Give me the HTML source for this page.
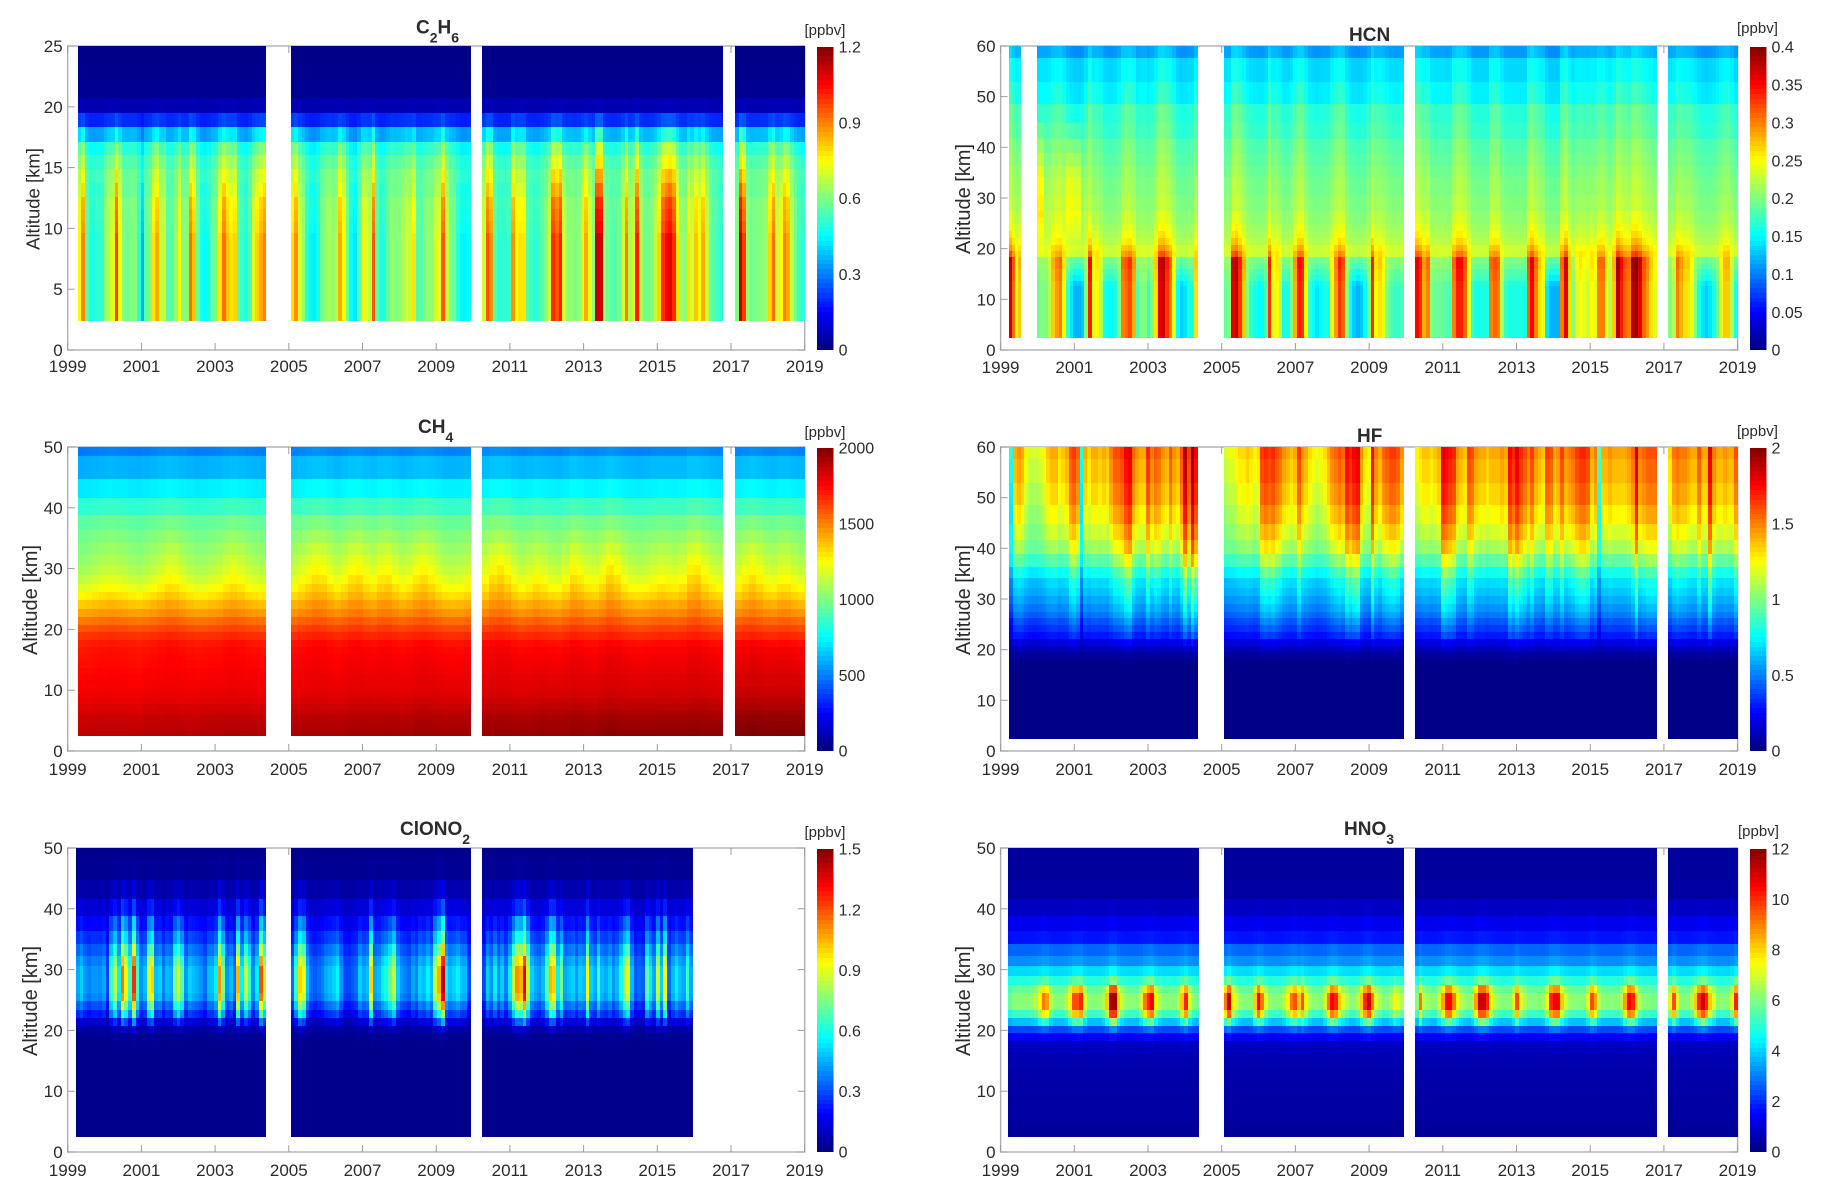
<!DOCTYPE html>
<html lang="en">
<head>
<meta charset="utf-8">
<title>Altitude-time mixing ratio panels</title>
<style>
html,body{margin:0;padding:0;background:#fff}
svg{display:block}
text{font-family:"Liberation Sans",Arial,sans-serif;fill:#2b2b2b}
</style>
</head>
<body>
<svg id="figure" xmlns="http://www.w3.org/2000/svg" width="1825" height="1198" viewBox="0 0 1825 1198"></svg>
<script>
/* shared axis data */
const levelEdgesKm = [60,57.7,52.9,48.5,44.8,41.6,38.8,36.3,34.2,32.2,30.6,29,27.5,26.2,24.8,23.4,22.1,20.7,19.5,18.3,17.1,16,14.9,13.7,12.6,11.6,10.6,9.6,8.7,7.7,6.8,5.9,5,4.2,3.3,2.4];
const yearTicks = ['1999','2001','2003','2005','2007','2009','2011','2013','2015','2017','2019'];
const yTicks25 = ['0','5','10','15','20','25'];
const yTicks50 = ['0','10','20','30','40','50'];
const yTicks60 = ['0','10','20','30','40','50','60'];

/* C2H6 */
const c2h6Segments = [[1999.27,2004.39],[2005.05,2009.94],[2010.24,2016.79],[2017.11,2019]];
const c2h6Profile = [.01,.01,.015,.02,.06,.2,.37,.5,.55,.58,.58,.6,.6,.6,.6,.6,.6,.6,.6,.6,.6,.6];
const c2h6Weight = [0,0,0,0,.02,.12,.3,.4,.45,.55,.7,.8,.85,.9,1,1,1,1,1,1,1,1];
const c2h6Series = [
[.75,.9,.55,.48,.48,.5,.5,.62,.68,.72,.98,.75,.6,.58,.6,.6,.5,.36,.55,.6,.78,.85,.68,.7,.55,.55,.62,.75,.6,.62,.92,.82,.58,.47,.45,.5,.58,.6,.78,.92,.82,.78,.8,.55,.52,.48,.55,.72,.8,.85,.9],
[.78,.88,.7,.62,.5,.44,.43,.47,.58,.62,.65,.62,.66,.85,.75,.58,.45,.42,.55,.75,.72,.68,.95,.55,.48,.5,.56,.62,.6,.62,.65,.7,.68,.78,.55,.55,.6,.62,.62,.7,.72,.95,.68,.6,.58,.5,.44,.44,.46],
[.7,.95,.88,.55,.5,.5,.5,.52,.88,.75,.78,.78,.55,.52,.5,.5,.55,.6,.7,1,.95,1.02,.7,.62,.62,.6,.62,.72,.85,.72,.62,1.12,1.1,.62,.58,.55,.55,.58,.7,.9,.65,.7,1.02,.65,.58,.58,.6,.68,.8,1,1.05,1.08,1,.78,.62,.62,.78,.7,.82,.75,.85,.68,.58,.55,.52,.5],
[.6,1.12,.98,.62,.58,.6,.6,.62,.62,.8,.92,.7,.75,.9,.85,.68,.58,.52,.5]
];
const c2h6BarLabels = ['0','0.3','0.6','0.9','1.2'];

/* HCN */
const hcnSegments = [[1999.24,1999.56],[1999.98,2004.36],[2005.05,2009.94],[2010.24,2016.81],[2017.12,2019]];
const hcnProfile = [.115,.14,.15,.17,.175,.185,.19,.195,.2,.2,.205,.205,.21,.21,.215,.22,.225,.235,.235,.21,.21,.205,.205,.2,.2,.2,.2,.2,.2,.2,.2,.2,.2,.2,.2];
const hcnWeight = [.12,.12,.15,.15,.15,.15,.15,.15,.15,.15,.15,.15,.18,.2,.22,.25,.3,.35,.5,1,1,1,1,1,1,1,1,1,1,1,1,1,1,1,1];
const hcnNegWeight = [.12,.12,.15,.15,.15,.12,.12,.12,.12,.12,.12,.12,.12,.12,.12,.12,.12,.12,.15,.3,.45,.6,.75,.9,1,1,1,1,1,1,1,1,1,1,1];
const hcnSeries = [
[.37,.31,.24,.27],
[.19,.2,.2,.22,.27,.29,.3,.25,.17,.14,.12,.12,.13,.2,.34,.24,.25,.22,.16,.15,.15,.16,.2,.3,.31,.32,.28,.18,.2,.2,.17,.2,.26,.36,.37,.33,.3,.24,.15,.13,.14,.16,.16,.26],
[.19,.2,.36,.38,.33,.27,.2,.17,.16,.15,.15,.18,.33,.24,.25,.22,.16,.16,.2,.28,.34,.33,.25,.17,.15,.14,.15,.16,.16,.24,.29,.33,.31,.2,.15,.13,.12,.13,.15,.2,.33,.25,.26,.24,.2,.18,.17,.17,.18],
[.35,.33,.28,.3,.2,.19,.19,.19,.18,.18,.3,.34,.34,.31,.24,.17,.16,.16,.16,.16,.3,.31,.3,.22,.17,.16,.16,.16,.16,.16,.31,.35,.3,.26,.24,.14,.12,.12,.12,.3,.36,.26,.2,.24,.25,.24,.23,.25,.24,.3,.3,.25,.22,.27,.38,.34,.31,.3,.38,.39,.36,.31,.29,.26,.24],
[.2,.22,.3,.28,.26,.26,.24,.2,.16,.14,.13,.14,.16,.19,.24,.27,.27,.22,.16]
];
const hcnUpperSeries = [[0],[.05,.012,.012,.012,.045,.045,.012,0,0,0,0,0,0,0,0,0,0,0,0,0,0,0],[0],[0],[0]];
const hcnUpperWeight = [0,0,0,0,.3,.5,.7,.9,1,1,1,1,1,.9,.7,.5,.3,.2,.1,0,0,0,0,0,0,0,0,0,0,0,0,0,0,0,0];
const hcnBarLabels = ['0','0.05','0.1','0.15','0.2','0.25','0.3','0.35','0.4'];

/* CH4 */
const ch4Segments = [[1999.27,2004.39],[2005.05,2009.94],[2010.24,2016.79],[2017.11,2019]];
const ch4Profile = [500,600,720,850,950,1000,1040,1080,1120,1170,1230,1300,1380,1450,1530,1600,1660,1710,1730,1740,1750,1760,1770,1780,1790,1800,1820,1840,1860,1880,1890,1900,1910];
const ch4Weight = [.3,.3,.3,.4,.5,.7,1,1.2,1.3,1.3,1.2,1,.8,.6,.5,.4,.3,.3,.25,.25,.2,.2,.2,.1,.1,.1,.1,.1,.1,.1,.1,.1,.1];
const ch4Series = [
[-40,-30,-10,10,20,10,0,-20,-30,-10,10,40,70,60,30,0,-20,-20,0,20,50,70,50,20,0,-10],
[20,50,80,110,100,60,30,60,100,110,70,50,90,100,60,30,50,90,110,80,40,10,0,10,30],
[60,110,130,100,50,20,40,70,50,20,10,50,110,90,50,40,80,130,100,50,20,10,20,40,60,50,40,60,120,130,80,40,20],
[40,80,110,80,40,30,60,60,30,10]
];
const ch4TrendSeries = [[-30,-20,-10],[0,10,20],[30,40,50,50],[80]];
const ch4TrendWeight = [0,0,0,0,0,0,0,0,0,0,0,0,0,0,0,0,0,.2,.3,.4,.5,.5,.6,.6,.7,.7,.8,.8,.9,.9,1,1,1];
const ch4BarLabels = ['0','500','1000','1500','2000'];

/* HF */
const hfSegments = [[1999.24,2004.36],[2005.05,2009.94],[2010.24,2016.81],[2017.12,2019]];
const hfProfile = [1.47,1.43,1.38,1.3,1.2,1.1,.95,.8,.7,.65,.6,.55,.5,.43,.37,.3,.2,.12,.06,.03,.015,.015,.015,.015,.015,.015,.015,.015,.015,.015,.015,.015,.015,.015,.015];
const hfWeight = [.85,.85,.85,.85,.85,.85,.8,.7,.6,.6,.55,.5,.45,.4,.35,.3,.15,.08,.03,.01,0,0,0,0,0,0,0,0,0,0,0,0,0,0,0];
const hfNegWeight = [1,1,1,.9,.7,.5,.35,.3,.3,.25,.25,.25,.25,.25,.2,.15,.1,.05,.02,0,0,0,0,0,0,0,0,0,0,0,0,0,0,0,0];
const hfSeries = [
[.7,1.3,1.35,1.3,1.15,1.05,1.05,1.05,1.1,1.15,1.25,1.3,1.3,1.2,1.25,1.3,1.5,1.55,1.45,.7,1.3,1.2,1.3,1.3,1.25,1.3,1.25,1.4,1.5,1.5,1.55,1.7,1.75,1.45,1.35,1.3,1.3,1.6,1.4,1.5,1.45,1.35,1.3,1.5,1.35,1.3,1.5,1.85,1.55,1.95,1.7],
[1.05,1.1,1.1,1.15,1.2,1.2,1.25,1.2,1.15,1.2,1.55,1.6,1.55,1.6,1.5,1.45,1.35,1.3,1.25,1.3,1.55,1.35,1.3,1.2,1.15,1.1,1.15,1.2,1.3,1.4,1.45,1.5,1.45,1.7,1.6,1.7,1.75,1.35,1.2,1.15,1.7,1.4,1.3,1.45,1.5,1.55,1.55,1.5,1.35],
[1.15,1.2,1.25,1.25,1.2,1.25,1.3,1.75,1.7,1.65,1.6,1.35,1.3,1.25,1.55,1.5,1.35,1.3,1.3,1.25,1.3,1.3,1.3,1.35,1.3,1.7,1.6,1.75,1.6,1.5,1.4,1.55,1.35,1.3,1.25,1.55,1.5,1.3,1.35,1.55,1.35,1.4,1.45,1.55,1.6,1.6,1.55,1.3,1.4,.8,1.3,1.3,1.35,1.3,1.3,1.3,1.3,1.35,1.45,1.8,1.4,1.45,1.5,1.5,1.5],
[1.2,1.4,1.45,1.4,1.4,1.35,1.3,1.3,1.5,1.3,1.3,1.75,1.4,1.3,1.3,1.35,1.3,1.3,1.5]
];
const hfBarLabels = ['0','0.5','1','1.5','2'];

/* ClONO2 */
const clono2Segments = [[1999.22,2004.39],[2005.05,2009.94],[2010.24,2015.97]];
const clono2Profile = [.02,.03,.07,.14,.22,.3,.38,.45,.5,.5,.5,.48,.38,.28,.14,.06,.03,.02,.02,.02,.02,.02,.02,.02,.02,.02,.02,.02,.02,.02,.02,.02,.02];
const clono2Weight = [0,.02,.1,.2,.4,.5,.7,.9,1,1,1,.95,.8,.6,.35,.1,.03,.01,0,0,0,0,0,0,0,0,0,0,0,0,0,0,0];
const clono2NegWeight = [0,.01,.05,.1,.2,.3,.4,.5,.6,.6,.6,.6,.5,.4,.2,.05,.02,.01,0,0,0,0,0,0,0,0,0,0,0,0,0,0,0];
const clono2Series = [
[.45,.55,.4,.35,.4,.4,.38,.45,.2,.7,.9,.6,1.2,1,.7,1.3,.7,.4,.5,.95,1.05,.5,.55,.35,.5,.45,.8,.95,.75,.4,.55,.5,.45,.4,.3,.5,.5,.6,1.15,.8,.4,.5,.3,1.1,.6,.9,.7,.4,.6,1.25,.9],
[.3,.7,1.05,.95,.5,.3,.25,.3,.35,.45,.5,.55,.6,.4,.2,.2,.25,.3,.55,.45,.5,1.05,.45,.5,.6,.65,.75,.9,.55,.4,.35,.3,.45,.35,.55,.5,.6,.5,.9,1.1,1.45,.6,.5,.55,.6,.5,.5,.2],
[.2,.55,.4,.6,.35,.55,.35,.6,.9,1.15,1.1,1.4,.9,.55,.45,.4,.5,.75,1.1,1.05,.6,.8,.45,.5,.55,.4,.55,.5,1,.55,.45,.7,.5,.45,.55,.4,.5,.65,.85,.95,.5,.25,.3,.25,.75,.6,.45,.9,.55,1,.3,.5,.6,.5,.45,.7,.45]
];
const clono2BarLabels = ['0','0.3','0.6','0.9','1.2','1.5'];

/* HNO3 */
const hno3Segments = [[1999.2,2004.39],[2005.05,2009.94],[2010.24,2016.81],[2017.12,2019]];
const hno3Profile = [.35,.35,.4,.8,1.3,1.7,2.7,3.2,4.1,5,6,6.6,6.6,5.6,4,2.4,1.4,.8,.7,.6,.55,.5,.5,.45,.45,.4,.4,.4,.4,.35,.35,.3,.3];
const hno3Weight = [0,0,0,.01,.02,.03,.05,.06,.08,.2,.7,1,1,.85,.45,.14,.05,.02,.01,0,0,0,0,0,0,0,0,0,0,0,0,0,0];
const hno3Series = [
[5.5,6,6,6,6,6,6.2,6.5,7.5,9,8.5,6.5,6,6,6,6.3,7.5,9.5,9.5,10,7,6,6,6,6,6.5,8,11.5,11.5,8,6.8,6.2,6,6,6,7,9,10,10.5,7.5,6.5,6,6,6,6,6.5,8,10,7,6,5.8],
[9,11,7.5,6.8,6.2,6,6,6,8,10.5,9,7,6.2,6,6,6,6.5,7.5,9,9.5,8,9.5,7.5,6.5,6,6,6,7,9,10.5,10,8,7,6.5,6,6,6.5,8,10,11,9,7,6.5,6,6,6.5,7.5,7,6.5],
[6,9,6.5,6.3,6,6,7,8.5,10.5,10.5,9,7.5,6.5,6.2,6,6.5,8.5,11,11,10,7.5,6.5,6.2,6,6,6,7,9.5,7,6.5,6,6,6,6,6.2,7.5,10,10.5,10.5,8,6.8,6.2,6,6,6,6,7,9.5,8.5,6.5,6,6,6,6,6,6.5,8.5,10.5,10,8,6.5,6,6,5.8,5.8],
[7,9.5,7,6,6,6,6.5,8,10,11,10,8,7,6,6,6,6,7,10]
];
const hno3BarLabels = ['0','2','4','6','8','10','12'];

const NS = 'http://www.w3.org/2000/svg';
const figure = document.getElementById('figure');
const PX_PER_YEAR = 36.85;
const PLOT_HEIGHT = 304;
const BAR_HEIGHT = 303;
const BAR_WIDTH = 16.4;
const AXIS_COLOR = '#aeaeb8';
const TICK_COLOR = '#9a9aa4';

function jet(v) {
  const c = x => Math.round(255 * Math.max(0, Math.min(1, x)));
  return 'rgb(' + c(1.5 - Math.abs(4 * v - 3)) + ',' + c(1.5 - Math.abs(4 * v - 2)) + ',' + c(1.5 - Math.abs(4 * v - 1)) + ')';
}
function shape(parent, tag, attrs) {
  const el = document.createElementNS(NS, tag);
  for (const k in attrs) el.setAttribute(k, attrs[k]);
  parent.appendChild(el);
  return el;
}
function pick(list, seg, frac) {
  const a = list[seg];
  return a[Math.min(a.length - 1, Math.floor(frac * a.length))];
}

function drawPanel(p) {
  const g = shape(figure, 'g', {});
  
  
  const top = p.top, bottom = p.top + PLOT_HEIGHT, left = p.left, right = p.left + 20 * PX_PER_YEAR;
  const xScale = t => left + (t - 1999) * PX_PER_YEAR;
  const yScale = a => bottom - (a / p.yMax) * PLOT_HEIGHT;

  /* frame */
  const frame = shape(g, 'rect', {x: left, y: top, width: right - left, height: PLOT_HEIGHT, fill: 'none', stroke: AXIS_COLOR, 'stroke-width': 1.4});
  
  

  /* x ticks */
  for (const label of yearTicks) {
    const x = xScale(parseFloat(label));
    const t1 = shape(g, 'line', {x1: x, x2: x, y1: bottom, y2: bottom - 7, stroke: TICK_COLOR, 'stroke-width': 1});
    
    
    const t2 = shape(g, 'line', {x1: x, x2: x, y1: top, y2: top + 7, stroke: TICK_COLOR, 'stroke-width': 1});
    
    
    const tx = shape(g, 'text', {x: x, y: p.xLabelY, 'font-size': 17, 'text-anchor': 'middle'});
    tx.textContent = label;
    
    
  }
  /* y ticks */
  for (const label of p.yTicks) {
    const y = yScale(parseFloat(label));
    const t1 = shape(g, 'line', {x1: left, x2: left + 7, y1: y, y2: y, stroke: TICK_COLOR, 'stroke-width': 1});
    
    
    const t2 = shape(g, 'line', {x1: right, x2: right - 7, y1: y, y2: y, stroke: TICK_COLOR, 'stroke-width': 1});
    
    
    const tx = shape(g, 'text', {x: left - 5, y: y + 6, 'font-size': 17, 'text-anchor': 'end'});
    tx.textContent = label;
    
    
  }

  /* heatmap */
  const heat = shape(g, 'g', {'shape-rendering': 'crispEdges'});
  
  
  let first = 0;
  while (levelEdgesKm[first + 1] >= p.yMax) first++;
  const rows = levelEdgesKm.length - 1 - first;
  p.series.forEach((cols, s) => {
    const t0 = p.segments[s][0], t1 = p.segments[s][1], n = cols.length;
    cols.forEach((val, c) => {
      const x0 = Math.round(xScale(t0 + (t1 - t0) * c / n));
      const x1 = Math.round(xScale(t0 + (t1 - t0) * (c + 1) / n));
      if (x1 <= x0) return;
      for (let r = 0; r < rows; r++) {
        const hi = Math.min(p.yMax, levelEdgesKm[first + r]);
        const lo = levelEdgesKm[first + r + 1];
        const y0 = Math.round(yScale(hi)), y1 = Math.round(yScale(lo));
        if (y1 <= y0) continue;
        const w = (val < p.reference && p.negWeight) ? p.negWeight[r] : p.weight[r];
        let v = p.profile[r] + w * (val - p.reference);
        if (p.extraSeries) v += p.extraWeight[r] * pick(p.extraSeries, s, (c + 0.5) / n);
        const cell = shape(heat, 'rect', {x: x0, y: y0, width: x1 - x0, height: y1 - y0, fill: jet(Math.max(0, Math.min(1, v / p.vMax)))});
        
        
      }
    });
  });

  /* y title */
  const yt = shape(g, 'text', {transform: 'translate(' + p.yTitleX + ',' + (top + PLOT_HEIGHT / 2 + 1) + ') rotate(-90)', 'font-size': p.yTitleSize, 'text-anchor': 'middle'});
  yt.textContent = 'Altitude [km]';
  
  

  /* chart title */
  const title = shape(g, 'text', {x: p.titleX, y: p.titleY, 'font-size': 19, 'font-weight': 'bold', fill: '#111'});
  
  
  p.title.forEach(part => {
    const isSub = /^[0-9]$/.test(part);
    const span = shape(title, 'tspan', isSub ? {'font-size': 14, dy: 9} : {});
    span.textContent = part;
    if (isSub) {
      const reset = shape(title, 'tspan', {dy: -9});
      reset.textContent = '\u200b';
    }
  });

  /* colorbar */
  const barLeft = right + 12.5, barTop = top + 0.7;
  const bar = shape(g, 'g', {'shape-rendering': 'crispEdges'});
  
  
  const levels = 64;
  for (let i = 0; i < levels; i++) {
    const y0 = Math.round(barTop + BAR_HEIGHT * i / levels), y1 = Math.round(barTop + BAR_HEIGHT * (i + 1) / levels);
    const swatch = shape(bar, 'rect', {x: barLeft, y: y0, width: BAR_WIDTH, height: y1 - y0, fill: jet((levels - i - 0.5) / levels)});
    
    
  }
  for (const label of p.barLabels) {
    const y = barTop + BAR_HEIGHT * (1 - parseFloat(label) / p.vMax);
    const tx = shape(g, 'text', {x: barLeft + BAR_WIDTH + 5, y: y + 6, 'font-size': 16});
    tx.textContent = label;
    
    
  }
  const unit = shape(g, 'text', {x: p.unitX, y: p.unitY, 'font-size': 15});
  unit.textContent = '[ppbv]';
  
  
}

drawPanel({id:'c2h6', left:67.7, top:46, yMax:25, vMax:1.2, reference:.6, segments:c2h6Segments, profile:c2h6Profile, weight:c2h6Weight, series:c2h6Series,
  yTicks:yTicks25, barLabels:c2h6BarLabels, title:['C','2','H','6'], titleX:416, titleY:33.5, xLabelY:372, yTitleX:39.5, yTitleSize:18.5, unitX:804.5, unitY:35});
drawPanel({id:'hcn', left:1000.6, top:46, yMax:60, vMax:.4, reference:.2, segments:hcnSegments, profile:hcnProfile, weight:hcnWeight, negWeight:hcnNegWeight, series:hcnSeries, extraSeries:hcnUpperSeries, extraWeight:hcnUpperWeight,
  yTicks:yTicks60, barLabels:hcnBarLabels, title:['HCN'], titleX:1349, titleY:41, xLabelY:373, yTitleX:970, yTitleSize:20, unitX:1737, unitY:33});
drawPanel({id:'ch4', left:67.7, top:447, yMax:50, vMax:2000, reference:0, segments:ch4Segments, profile:ch4Profile, weight:ch4Weight, series:ch4Series, extraSeries:ch4TrendSeries, extraWeight:ch4TrendWeight,
  yTicks:yTicks50, barLabels:ch4BarLabels, title:['CH','4'], titleX:418, titleY:433, xLabelY:775, yTitleX:37, yTitleSize:20, unitX:804.5, unitY:437});
drawPanel({id:'hf', left:1000.6, top:447, yMax:60, vMax:2, reference:1.35, segments:hfSegments, profile:hfProfile, weight:hfWeight, negWeight:hfNegWeight, series:hfSeries,
  yTicks:yTicks60, barLabels:hfBarLabels, title:['HF'], titleX:1357, titleY:442, xLabelY:775, yTitleX:970, yTitleSize:20, unitX:1737, unitY:436});
drawPanel({id:'clono2', left:67.7, top:848, yMax:50, vMax:1.5, reference:.55, segments:clono2Segments, profile:clono2Profile, weight:clono2Weight, negWeight:clono2NegWeight, series:clono2Series,
  yTicks:yTicks50, barLabels:clono2BarLabels, title:['ClONO','2'], titleX:400, titleY:835, xLabelY:1176, yTitleX:37, yTitleSize:20, unitX:804.5, unitY:837});
drawPanel({id:'hno3', left:1000.6, top:848, yMax:50, vMax:12, reference:6.5, segments:hno3Segments, profile:hno3Profile, weight:hno3Weight, series:hno3Series,
  yTicks:yTicks50, barLabels:hno3BarLabels, title:['HNO','3'], titleX:1344, titleY:835, xLabelY:1176, yTitleX:970, yTitleSize:20, unitX:1738, unitY:836});
</script>
</body>
</html>
